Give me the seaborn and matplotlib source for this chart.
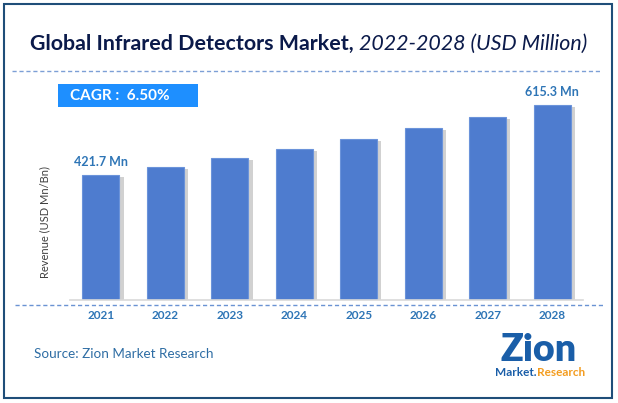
import seaborn as sns
import matplotlib.pyplot as plt
from matplotlib import patheffects as pe
from matplotlib.patches import Rectangle
from matplotlib.lines import Line2D

# data
years = ["2021", "2022", "2023", "2024", "2025", "2026", "2027", "2028"]
revenue = [421.7, 443.7, 468.5, 493.3, 520.8, 551.1, 582.2, 615.3]
shown_labels = {0: "421.7 Mn", 7: "615.3 Mn"}
cagr_text = "CAGR :  6.50%"

sns.set_style("white")
plt.rcParams["font.family"] = ["Lato", "DejaVu Sans"]

W, H = 618, 403


def fx(px):
    return px / W


def fy(py):
    return 1 - py / H


fig = plt.figure(figsize=(W / 100, H / 100), dpi=100)

# bar chart area
ax = fig.add_axes([fx(70), fy(300), (583 - 70) / W, (300 - 95) / H])
sns.barplot(x=years, y=revenue, color="#4e7ccf", width=0.575, saturation=1,
            edgecolor="#6b93da", linewidth=0.8, ax=ax)
for p in ax.patches:
    p.set_path_effects([pe.SimplePatchShadow(offset=(3, -1.5), shadow_rgbFace="#8c8c8c", alpha=0.4),
                        pe.Normal()])
ax.set_ylim(77.4, 642)
ax.set_xlim(-0.48, 7.48)
ax.set_yticks([])
ax.set_ylabel("")
ax.set_xlabel("")
for s in ["left", "top", "right"]:
    ax.spines[s].set_visible(False)
ax.spines["bottom"].set_color("#d9d9d9")
ax.spines["bottom"].set_linewidth(1.2)
ax.tick_params(axis="x", length=0, pad=7)
for lab in ax.get_xticklabels():
    lab.set_fontweight("bold")
    lab.set_color("#2e75b6")
    lab.set_fontsize(8.5)

for i, txt in shown_labels.items():
    ax.annotate(txt, (i, revenue[i]), xytext=(0, 5), textcoords="offset points",
                ha="center", va="bottom", fontsize=9, fontweight="bold", color="#2e75b6")

fig.text(fx(45), fy(222), "Revenue (USD Mn/Bn)", rotation=90, ha="center", va="center",
         fontsize=8, color="#404040")

# title
t1 = fig.text(fx(30), fy(44), "Global Infrared Detectors Market,", fontweight="bold",
              fontsize=15.4, color="#0b1a4a", va="center")
fig.canvas.draw()
bb = t1.get_window_extent()
fig.text(bb.x1 / W, fy(44), " 2022-2028 (USD Million)", style="italic",
         fontsize=15.4, color="#0b1a4a", va="center")

# dashed separators
fig.add_artist(Line2D([fx(12), fx(600)], [fy(71), fy(71)], ls=(0, (3, 2)),
                      color="#7d9fd6", lw=1))
fig.add_artist(Line2D([fx(15), fx(605)], [fy(305), fy(305)], ls=(0, (3, 2)),
                      color="#6a93d3", lw=1))

# CAGR box
fig.add_artist(Rectangle((fx(58), fy(107)), (198 - 58) / W, (107 - 84) / H,
                         transform=fig.transFigure, color="#1e8fff", lw=0))
fig.text(fx(70), fy(96), cagr_text, color="white", fontweight="bold", fontsize=11, va="center")

# source + logo
fig.text(fx(34), fy(354), "Source: Zion Market Research", color="#2e6da4", fontsize=9.7, va="center")
fig.text(fx(539), fy(350), "Zion", color="#1a5ea8", fontweight="heavy", fontsize=27,
         ha="center", va="center")
m = fig.text(fx(495), fy(373), "Market.", color="#1a5ea8", fontweight="bold", fontsize=8.5, va="center")
fig.canvas.draw()
mb = m.get_window_extent()
fig.text(mb.x1 / W, fy(373), "Research", color="#f39c1f", fontweight="bold", fontsize=8.5, va="center")

# outer frame
fig.add_artist(Rectangle((fx(4), fy(398)), (612 - 4) / W, (398 - 4) / H, fill=False,
                         ec="#1f4e79", lw=1.5, transform=fig.transFigure))

fig.savefig("out.png", dpi=100)
